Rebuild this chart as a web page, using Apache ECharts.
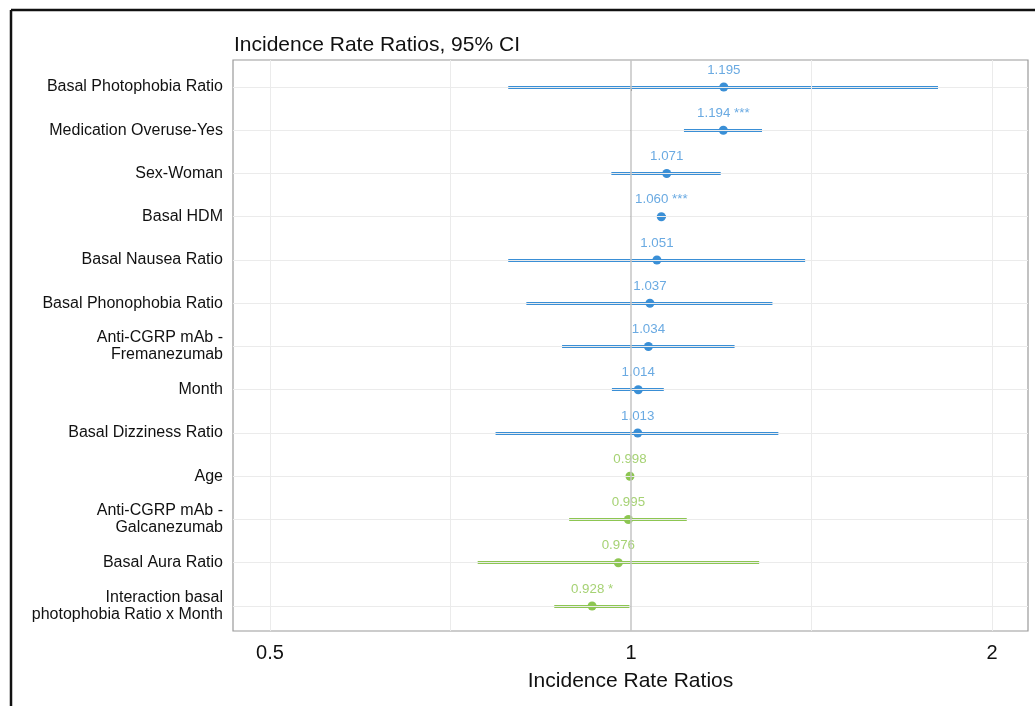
<!DOCTYPE html>
<html>
<head>
<meta charset="utf-8">
<script src="https://cdn.jsdelivr.net/npm/echarts@6/dist/echarts.min.js"></script>
<style>
html,body{margin:0;padding:0;background:#fff;}
#chart{width:1035px;height:706px;}
</style>
</head>
<body>
<div id="chart"></div>
<script>
// rows, top to bottom
var names = ['Basal Photophobia Ratio', 'Medication Overuse-Yes', 'Sex-Woman', 'Basal HDM',
  'Basal Nausea Ratio', 'Basal Phonophobia Ratio', 'Anti-CGRP mAb -\nFremanezumab', 'Month',
  'Basal Dizziness Ratio', 'Age', 'Anti-CGRP mAb -\nGalcanezumab', 'Basal Aura Ratio',
  'Interaction basal\nphotophobia Ratio x Month'];
var est = [1.195, 1.194, 1.071, 1.060, 1.051, 1.037, 1.034, 1.014, 1.013, 0.998, 0.995, 0.976, 0.928];
var lo  = [0.790, 1.107, 0.963, 1.051, 0.790, 0.818, 0.876, 0.964, 0.771, 0.996, 0.888, 0.745, 0.863];
var hi  = [1.803, 1.286, 1.188, 1.069, 1.397, 1.312, 1.220, 1.065, 1.327, 1.000, 1.113, 1.279, 0.997];
var sig = ['', '***', '', '***', '', '', '', '', '', '', '', '', '*'];
var xTicks = [0.5, 1, 2];
var xMinor = [0.7071, 1.4142];

var BLUE = '#3a8fd6', BLUE_T = '#6aaae2', GREEN = '#8dc652', GREEN_T = '#a6d274';
function colOf(i){ return est[i] >= 1 ? BLUE : GREEN; }
function txtOf(i){ return est[i] >= 1 ? BLUE_T : GREEN_T; }

var rows = names.map(function(n, i){ return i; });
var bars = [], pts = [];
for (var i = 0; i < names.length; i++) {
  bars.push({
    coords: [[Math.log2(lo[i]), i], [Math.log2(hi[i]), i]],
    lineStyle: {color: colOf(i)}
  });
  pts.push({
    value: [Math.log2(est[i]), i],
    itemStyle: {color: colOf(i), opacity: 1},
    label: {color: txtOf(i)}
  });
}

var gridLines = [];
xMinor.concat([0.5, 2]).forEach(function(v){
  gridLines.push({xAxis: Math.log2(v), lineStyle: {color: '#ebebeb', width: 1, type: 'solid'}});
});
rows.forEach(function(r){
  gridLines.push({yAxis: r, lineStyle: {color: '#ebebeb', width: 1, type: 'solid'}});
});
gridLines.push({xAxis: 0, lineStyle: {color: '#c4c4c4', width: 1.5, type: 'solid'}});

var myChart = echarts.init(document.getElementById('chart'));
var option = {
  animation: false,
  textStyle: {fontFamily: 'Liberation Sans, Arial, sans-serif'},
  title: {
    text: 'Incidence Rate Ratios, 95% CI',
    left: 229, top: 30,
    textStyle: {fontSize: 21, fontWeight: 'normal', color: '#111'}
  },
  grid: {
    left: 233, right: 7, top: 60, bottom: 75,
    show: true, borderColor: '#9a9a9a', borderWidth: 1.2, backgroundColor: '#fff'
  },
  xAxis: {
    type: 'value',
    min: -1.1025, max: 1.0997,
    name: 'Incidence Rate Ratios',
    nameLocation: 'middle', nameGap: 40,
    nameTextStyle: {fontSize: 21, color: '#111'},
    axisLine: {show: false},
    splitLine: {show: false},
    axisTick: {show: true, length: 4, lineStyle: {color: '#444'},
      customValues: xTicks.map(function(v){ return Math.log2(v); })},
    axisLabel: {fontSize: 20, color: '#111', margin: 12,
      customValues: xTicks.map(function(v){ return Math.log2(v); }),
      formatter: function(v){ return String(Math.round(Math.pow(2, v) * 10) / 10); }}
  },
  yAxis: {
    type: 'value',
    inverse: true,
    min: -0.624, max: 12.578,
    axisLine: {show: false},
    splitLine: {show: false},
    axisTick: {show: true, length: 4, lineStyle: {color: '#444'}, customValues: rows},
    axisLabel: {fontSize: 16, color: '#111', margin: 10, lineHeight: 17, align: 'right',
      customValues: rows,
      formatter: function(v){ return names[Math.round(v)]; }}
  },
  series: [
    {
      type: 'scatter', data: [], silent: true, z: 1,
      markLine: {silent: true, symbol: 'none', label: {show: false}, animation: false, data: gridLines}
    },
    {
      type: 'lines', coordinateSystem: 'cartesian2d', z: 3, silent: true,
      polyline: false,
      lineStyle: {width: 3, opacity: 1, curveness: 0},
      data: bars
    },
    {
      type: 'scatter', z: 4,
      symbolSize: 9,
      data: pts,
      label: {
        show: true, position: 'top', distance: 6, fontSize: 13.3,
        formatter: function(p){ var i = p.dataIndex; return est[i].toFixed(3) + (sig[i] ? ' ' + sig[i] : ''); }
      }
    }
  ],
  graphic: [
    {type: 'line', shape: {x1: 11, y1: 10, x2: 1035, y2: 10}, style: {stroke: '#111', lineWidth: 2.5}},
    {type: 'line', shape: {x1: 11, y1: 10, x2: 11, y2: 706}, style: {stroke: '#111', lineWidth: 2.5}}
  ]
};
myChart.setOption(option);
</script>
</body>
</html>
